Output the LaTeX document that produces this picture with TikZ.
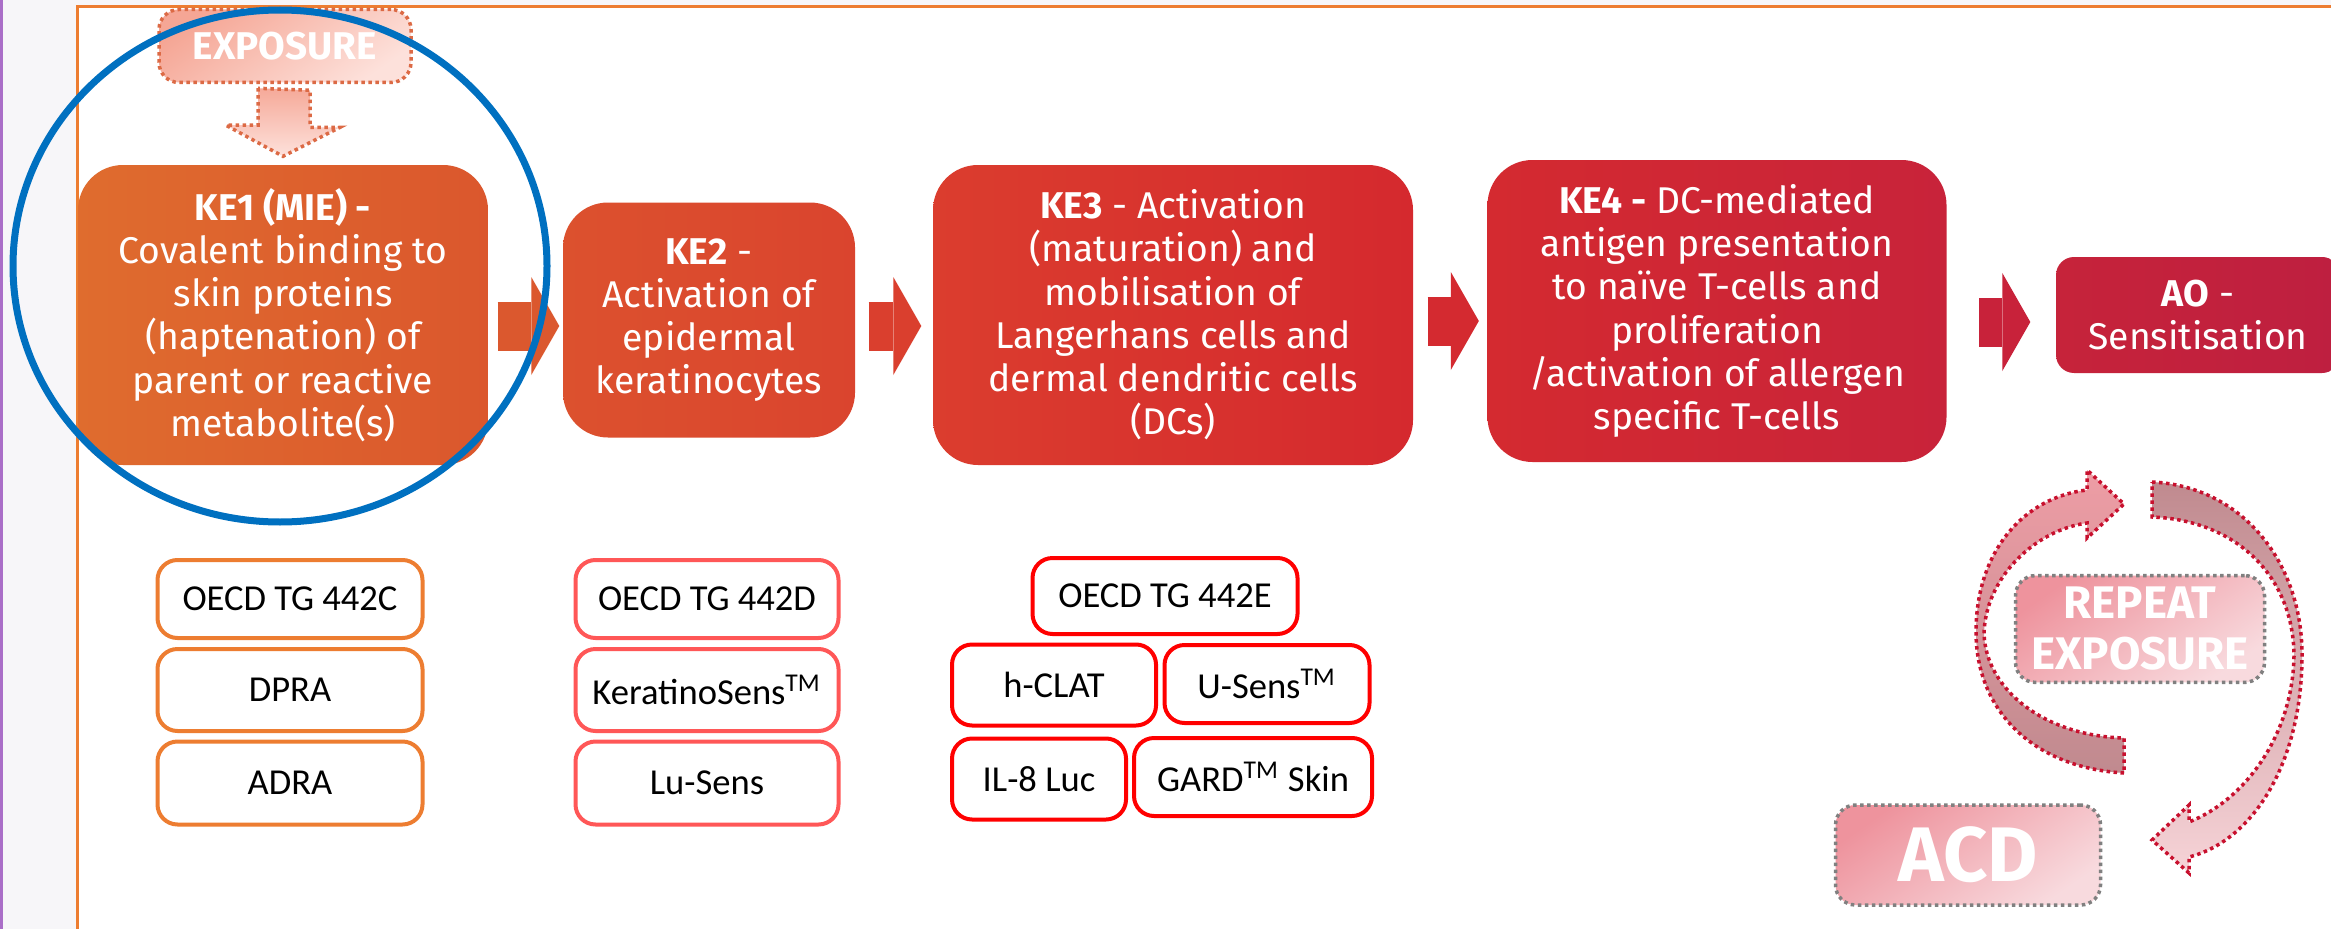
\documentclass[tikz,border=0pt]{standalone}
\usepackage{fontspec}
\setmainfont{Fira Sans}
\newfontfamily\testfont{Carlito}
\usepackage{tikz}
\usetikzlibrary{arrows.meta}

\definecolor{framec}{HTML}{ED7D31}
\definecolor{stripc}{HTML}{F7F6F9}
\definecolor{purplec}{HTML}{AA6EC8}
\definecolor{ringc}{HTML}{0070C0}
\definecolor{keA}{HTML}{DF6C2E}
\definecolor{keB}{HTML}{DB572D}
\definecolor{keC}{HTML}{DC512E}
\definecolor{keD}{HTML}{DA442E}
\definecolor{keE}{HTML}{DB3D2E}
\definecolor{keF}{HTML}{D5292E}
\definecolor{keG}{HTML}{D42A30}
\definecolor{keH}{HTML}{C8233A}
\definecolor{aoA}{HTML}{C6233A}
\definecolor{aoB}{HTML}{BE1F40}
\definecolor{arrA}{HTML}{DB582E}
\definecolor{arrB}{HTML}{DA3F2E}
\definecolor{arrC}{HTML}{D42A30}
\definecolor{arrD}{HTML}{C8223A}
\definecolor{expoA}{HTML}{F5A695}
\definecolor{expoB}{HTML}{FDE1DB}
\definecolor{expoline}{HTML}{DC6A45}
\definecolor{repA}{HTML}{EE939D}
\definecolor{repB}{HTML}{F8DADE}
\definecolor{grayline}{HTML}{808080}
\definecolor{cycline}{HTML}{C8102E}
\definecolor{cycpink}{HTML}{EE9DA5}
\definecolor{cycmauve}{HTML}{C08A8F}
\definecolor{cyclight}{HTML}{F6D3D7}
\definecolor{testA}{HTML}{ED7D31}
\definecolor{testB}{HTML}{FF5757}
\definecolor{testC}{HTML}{FF0000}

\begin{document}
\begin{tikzpicture}[x=0.1mm,y=-0.1mm]
  \tikzset{kebox/.style = {rounded corners=4.5mm,text=white,align=center,inner sep=0pt,font=\fontsize{10.6}{12.3}\selectfont}}
  \tikzset{testbox/.style = {draw,rounded corners=2mm,line width=0.4mm,fill=white,inner sep=0pt,font=\testfont\fontsize{10.4}{12}\selectfont}}
  \tikzset{flow/.style = {line width=4.9mm,-{Triangle[length=2.8mm,width=9.8mm,line width=0pt]}}}
  \tikzset{dotline/.style = {line width=0.35mm,dash pattern=on 0.35mm off 0.35mm}}
  \tikzset{pinkbox/.style = {dotline,draw=grayline,rounded corners=2mm,text=white,align=center,
      font=\bfseries\fontsize{13}{14.5}\selectfont,top color=repA,bottom color=repB,shading angle=35}}
  \tikzset{cyclearrow/.style = {dotline,draw=cycline}}

  \useasboundingbox (0,0) rectangle (2331,929);
  \fill[white] (0,0) rectangle (2331,929);
  \fill[stripc] (0,0) rectangle (77,929);
  \fill[stripc] (0,0) rectangle (2331,7);
  \fill[purplec] (0,0) rectangle (3,929);
  \draw[framec,line width=0.3mm] (77,929) -- (77,7) -- (2331,7);

  % key events
  \node[kebox,left color=keA,right color=keB,minimum width=41mm,minimum height=30mm] (KE1) at (283,315)
    {\textbf{KE1 (MIE) -}\\Covalent binding to\\skin proteins\\(haptenation) of\\parent or reactive\\metabolite(s)};
  \node[kebox,left color=keC,right color=keD,minimum width=29.2mm,minimum height=23.5mm] (KE2) at (709,320)
    {\textbf{KE2} -\\Activation of\\epidermal\\keratinocytes};
  \node[kebox,left color=keE,right color=keF,minimum width=48mm,minimum height=30mm] (KE3) at (1173,315)
    {\textbf{KE3} - Activation\\(maturation) and\\mobilisation of\\Langerhans cells and\\dermal dendritic cells\\(DCs)};
  \node[kebox,left color=keG,right color=keH,minimum width=45.9mm,minimum height=30.2mm] (KE4) at (1717,311)
    {\textbf{KE4 -} DC-mediated\\antigen presentation\\to naïve T-cells and\\proliferation\\/activation of allergen\\specific T-cells};
  \node[kebox,rounded corners=1.8mm,left color=aoA,right color=aoB,minimum width=28.4mm,minimum height=11.6mm] (AO) at (2198,315)
    {\textbf{AO} -\\Sensitisation};

  \foreach \a/\b/\y/\s/\e/\c in {KE1/KE2/326/0.9/0.3/arrA, KE2/KE3/326/1.3/1.1/arrB, KE3/KE4/321/1.4/0.8/arrC, KE4/AO/322/3.2/2.5/arrD}
    \draw[flow,draw=\c,shorten <=\s mm,shorten >=\e mm] (\a.east |- 0,\y) -- (\b.west |- 0,\y);

  % exposure
  \node[pinkbox,draw=expoline,top color=expoA,bottom color=expoB,shading angle=35,font=\bfseries\fontsize{11}{12.2}\selectfont,
    minimum width=25.2mm,minimum height=7.3mm] (EXP) at (285,46) {EXPOSURE};
  \shadedraw[dotline,draw=expoline,top color=expoA,bottom color=expoB] (EXP.south) ++(-27,4) -- ++(0,37) -- ++(-32,0)
    -- ([yshift=0.8mm]KE1.north) -- ++(57,-29) -- ++(-30,0) -- ++(0,-37) -- cycle;

  % test methods
  \node[testbox,draw=testA,minimum width=26.5mm,minimum height=7.8mm] (C1) at (290,599) {OECD TG 442C};
  \node[testbox,draw=testA,minimum width=26.5mm,minimum height=8.2mm] (C2) at (290,690) {DPRA};
  \node[testbox,draw=testA,minimum width=26.5mm,minimum height=8.3mm] (C3) at (290,783) {ADRA};
  \node[testbox,draw=testB,minimum width=26.3mm,minimum height=7.8mm] (D1) at (707,599) {OECD TG 442D};
  \node[testbox,draw=testB,minimum width=26.3mm,minimum height=8.2mm] (D2) at (707,690) {KeratinoSens\textsuperscript{TM}};
  \node[testbox,draw=testB,minimum width=26.3mm,minimum height=8.3mm] (D3) at (707,783) {Lu-Sens};
  \node[testbox,draw=testC,minimum width=26.5mm,minimum height=7.6mm] (E1) at (1165,596) {OECD TG 442E};
  \node[testbox,draw=testC,minimum width=20.4mm,minimum height=8.1mm] (E2) at (1054,685) {h-CLAT};
  \node[testbox,draw=testC,minimum width=20.5mm,minimum height=7.8mm] (E3) at (1267,684) {U-Sens\textsuperscript{TM}};
  \node[testbox,draw=testC,minimum width=17.4mm,minimum height=8.1mm] (E4) at (1039,779) {IL-8 Luc};
  \node[testbox,draw=testC,minimum width=23.8mm,minimum height=7.8mm] (E5) at (1253,777) {GARD\textsuperscript{TM} Skin};

  % repeat cycle
  \shadedraw[cyclearrow,top color=cycpink,bottom color=cycmauve]
    (2124,773) .. controls (2035,768) and (1976,712) .. (1976,632)
    .. controls (1976,550) and (2025,497) .. (2087,490)
    -- (2087,470) -- (2124,504) -- (2087,538) -- (2087,523)
    .. controls (2035,530) and (1985,578) .. (1984,634)
    .. controls (1986,690) and (2045,736) .. (2124,738) -- cycle;
  \shadedraw[cyclearrow,top color=cycmauve,bottom color=cyclight]
    (2152,482) .. controls (2240,486) and (2302,560) .. (2302,655)
    .. controls (2302,760) and (2255,840) .. (2189,857)
    -- (2189,873) -- (2152,840) -- (2189,805) -- (2189,822)
    .. controls (2245,800) and (2293,735) .. (2294,655)
    .. controls (2293,575) and (2235,520) .. (2152,517) -- cycle;
  \node[pinkbox,minimum width=24.9mm,minimum height=10.4mm] (REP) at (2140,629) {REPEAT\\EXPOSURE};
  \node[pinkbox,font=\bfseries\fontsize{22}{24}\selectfont,minimum width=26.5mm,minimum height=10mm] (ACD) at (1968,855) {ACD};

  \draw[ringc,line width=0.7mm] (280,266) ellipse [x radius=26.7mm,y radius=25.6mm];
\end{tikzpicture}
\end{document}
